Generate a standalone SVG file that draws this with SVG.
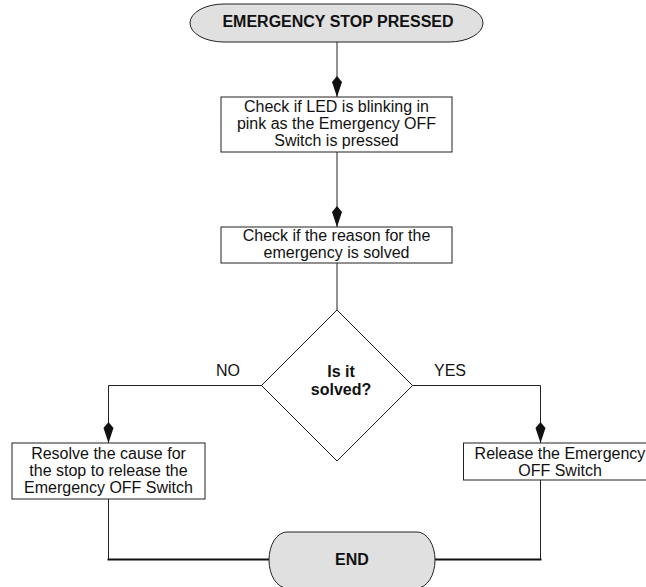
<svg xmlns="http://www.w3.org/2000/svg" width="646" height="587" viewBox="0 0 646 587">
<style>
.box{fill:#fff;stroke:#222;stroke-width:1}
.term{fill:#e0e0e0;stroke:#222;stroke-width:1}
.t{font-family:"Liberation Sans",Arial,sans-serif;font-size:16px;fill:#111;text-anchor:middle}
.b{font-weight:bold}
.ln{fill:none;stroke:#222;stroke-width:1}
.thick{fill:none;stroke:#111;stroke-width:2}
</style>
<defs>
<marker id="ah" markerUnits="userSpaceOnUse" markerWidth="24" markerHeight="12" viewBox="0 -6 22 12" refX="21" refY="0" orient="auto">
<path d="M0,0 L6,-5 L21,0 L6,5 Z" fill="#111"/>
</marker>
</defs>
<g id="connectors">
<path class="ln" d="M337,42 V97" marker-end="url(#ah)"/>
<path class="ln" d="M337,152 V227" marker-end="url(#ah)"/>
<path class="ln" d="M337,263 V310"/>
<path class="ln" d="M262,385.5 H108.5 V443" marker-end="url(#ah)"/>
<path class="ln" d="M412,385.5 H540.5 V443" marker-end="url(#ah)"/>
<path class="ln" d="M108.5,499 V559.5"/>
<path class="thick" d="M107.5,559.5 H269"/>
<path class="ln" d="M540.5,480 V559.5"/>
<path class="thick" d="M435,559.5 H541.5"/>
<text class="t" x="228" y="376">NO</text>
<text class="t" x="450" y="376">YES</text>
</g>
<g id="start">
<rect class="term" x="190" y="4" width="293" height="38" rx="34" ry="19"/>
<text class="t b" x="338" y="27">EMERGENCY STOP PRESSED</text>
</g>
<g id="check-led">
<rect class="box" x="221" y="97" width="231" height="55"/>
<text class="t" x="336.5" y="111.5">Check if LED is blinking in</text>
<text class="t" x="336.5" y="129">pink as the Emergency OFF</text>
<text class="t" x="336.5" y="146">Switch is pressed</text>
</g>
<g id="check-reason">
<rect class="box" x="221" y="227" width="231" height="36"/>
<text class="t" x="336.5" y="241">Check if the reason for the</text>
<text class="t" x="336.5" y="258">emergency is solved</text>
</g>
<g id="decision">
<path class="box" d="M337,310 L412.5,385.5 L337,461 L261.5,385.5 Z"/>
<text class="t b" x="341" y="377">Is it</text>
<text class="t b" x="341" y="394.5">solved?</text>
</g>
<g id="resolve">
<rect class="box" x="12" y="443" width="193" height="56"/>
<text class="t" x="108.5" y="458.5">Resolve the cause for</text>
<text class="t" x="108.5" y="475.5">the stop to release the</text>
<text class="t" x="108.5" y="492.5">Emergency OFF Switch</text>
</g>
<g id="release">
<rect class="box" x="463.5" y="443" width="194" height="37"/>
<text class="t" x="560" y="458.5">Release the Emergency</text>
<text class="t" x="560" y="475.5">OFF Switch</text>
</g>
<g id="end">
<rect class="term" x="269" y="532" width="166" height="56" rx="18" ry="28"/>
<text class="t b" x="352" y="565">END</text>
</g>
</svg>
